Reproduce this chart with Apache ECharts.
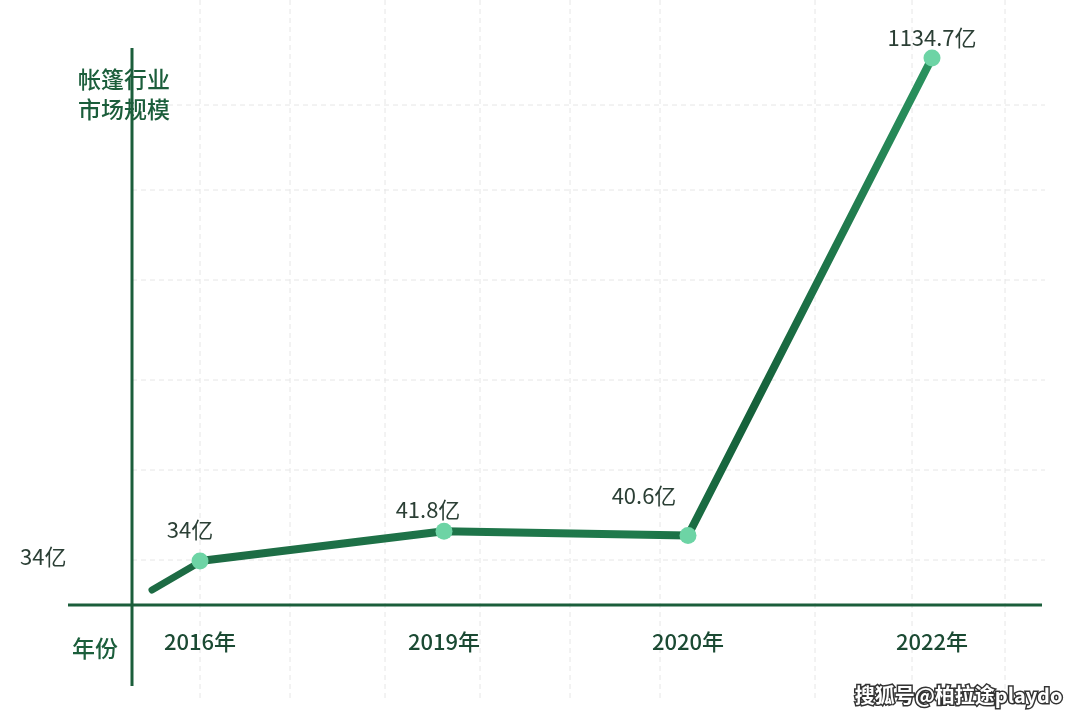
<!DOCTYPE html>
<html><head><meta charset="utf-8">
<script src="https://cdn.jsdelivr.net/npm/echarts@6/dist/echarts.min.js"></script>
<style>html,body{margin:0;background:#fff}#c{width:1080px;height:720px}</style></head>
<body><div id="c"></div>
<script>
const years = ['2016年','2019年','2020年','2022年'];
const values = [34, 41.8, 40.6, 1134.7];
const labels = ['34亿','41.8亿','40.6亿','1134.7亿'];
const labelOffsets = [[-10,-7],[-16,3],[-44,-15],[0,4]];
const chart = echarts.init(document.getElementById('c'));
const font = '"Noto Sans CJK SC", sans-serif';
const g = [];
[105,190,280,380,470,560].forEach(y=>g.push({type:'line',shape:{x1:132,y1:y,x2:1045,y2:y},style:{stroke:'#e6e6e6',lineDash:[5,4],lineWidth:1},z:-1}));
[200,290,385,480,570,660,815,912,1005].forEach(x=>g.push({type:'line',shape:{x1:x,y1:0,x2:x,y2:700},style:{stroke:'#e6e6e6',lineDash:[5,4],lineWidth:1},z:-1}));
g.push({type:'line',shape:{x1:132,y1:48,x2:132,y2:686},style:{stroke:'#1b5e3b',lineWidth:3}});
g.push({type:'line',shape:{x1:68,y1:605,x2:1042,y2:605},style:{stroke:'#1b5e3b',lineWidth:3}});
g.push({type:'line',shape:{x1:152,y1:590,x2:200,y2:562},style:{stroke:'#1d6b44',lineWidth:7,lineCap:'round'}});
g.push({type:'text',left:78,top:64,style:{text:'帐篷行业\n市场规模',font:'500 23px '+font,fill:'#1b5e3b',lineHeight:30}});
g.push({type:'text',left:72,top:637,style:{text:'年份',font:'500 23px '+font,fill:'#1b5e3b'}});
g.push({type:'text',left:20,top:546,style:{text:'34亿',font:'22px '+font,fill:'#2b3f35'}});
g.push({type:'text',right:16,top:684,style:{text:'搜狐号@柏拉途playdo',font:'bold 20px '+font,fill:'#fff',stroke:'#333',lineWidth:3}});
chart.setOption({
  animation:false,
  grid:{left:200,right:148,top:50,bottom:115},
  xAxis:{type:'category',data:years,boundaryGap:false,axisLine:{show:false},axisTick:{show:false},splitLine:{show:false},
    axisLabel:{margin:26,fontSize:22,fontWeight:500,color:'#1b4a33',fontFamily:font}},
  yAxis:{type:'log',min:25,max:1200,axisLine:{show:false},axisTick:{show:false},axisLabel:{show:false},splitLine:{show:false}},
  graphic:g,
  series:[{type:'line',data:values.map((v,i)=>({value:v,label:{offset:labelOffsets[i]}})),symbol:'circle',symbolSize:17,
    lineStyle:{width:8,color:new echarts.graphic.LinearGradient(0,0,1,0,[{offset:0,color:'#1d6b44'},{offset:0.6,color:'#1f7a4c'},{offset:0.75,color:'#15603a'},{offset:1,color:'#2b9460'}])},
    itemStyle:{color:'#6dd4a5',borderWidth:0},
    label:{show:true,position:'top',formatter:p=>labels[p.dataIndex],fontSize:22,color:'#2b3f35',fontFamily:font}
  }]
});
</script></body></html>
